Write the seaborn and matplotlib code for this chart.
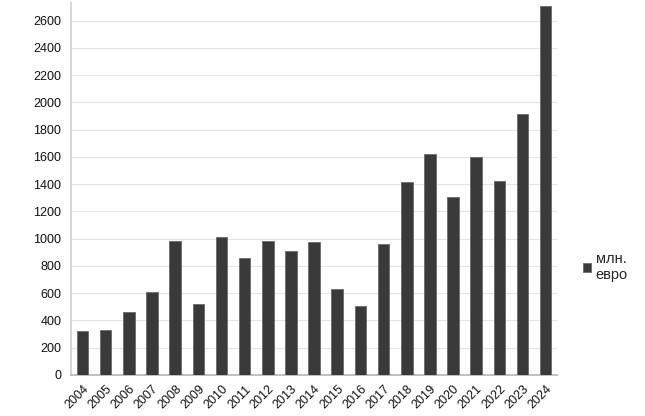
import matplotlib
matplotlib.use('Agg')
import numpy as np
import pandas as pd
import matplotlib.pyplot as plt
import seaborn as sns

years = [str(y) for y in range(2004, 2025)]
values = [320, 330, 463, 610, 984, 521, 1010, 859, 984, 908, 976,
          632, 507, 962, 1415, 1622, 1305, 1598, 1422, 1916, 2708]
series_name = "млн.\nевро"
y_ticks = list(range(0, 2601, 200))

df = pd.DataFrame({"year": years, "value": values, "series": series_name})

sns.set_theme(style="white")
plt.rcParams['font.family'] = ['Liberation Sans', 'DejaVu Sans']

fig = plt.figure(figsize=(6.45, 4.16), dpi=100)
ax = fig.add_axes([0.110, 0.099, 0.754, 0.894])

sns.barplot(data=df, x="year", y="value", hue="series", palette=["#3a3a3a"],
            width=0.5, edgecolor="#6a6a6a", linewidth=0.6, ax=ax, zorder=3)

ax.set_ylim(0, 2730)
ax.set_xlim(-0.5, len(years) - 0.5)
ax.set_yticks(y_ticks)
ax.set_yticklabels([str(t) for t in y_ticks], fontsize=9, color="#111111")
ax.yaxis.grid(True, color="#e4e4e4", linewidth=0.8, zorder=0)
ax.set_xlabel("")
ax.set_ylabel("")

# year labels rotated, tick marks on category boundaries
ax.set_xticks(range(len(years)))
ax.set_xticklabels(years, rotation=45, ha="right", rotation_mode="anchor",
                   fontsize=9, color="#111111")
ax.tick_params(axis="x", which="major", length=0, pad=6)
ax.set_xticks(np.arange(-0.5, len(years), 1), minor=True)
ax.tick_params(axis="x", which="minor", length=4, color="#b0b0b0", direction="out")
ax.tick_params(axis="y", length=4, color="#c8c8c8", direction="out", pad=3)

for side in ["top", "right"]:
    ax.spines[side].set_visible(False)
ax.spines["left"].set_color("#d0d0d0")
ax.spines["bottom"].set_color("#b8b8b8")

leg = ax.legend(loc="center left", bbox_to_anchor=(1.025, 0.29), frameon=False,
                fontsize=10.5, handlelength=0.6, handleheight=0.6, handletextpad=0.3,
                labelspacing=0.2)

fig.savefig("out.png", dpi=100)
